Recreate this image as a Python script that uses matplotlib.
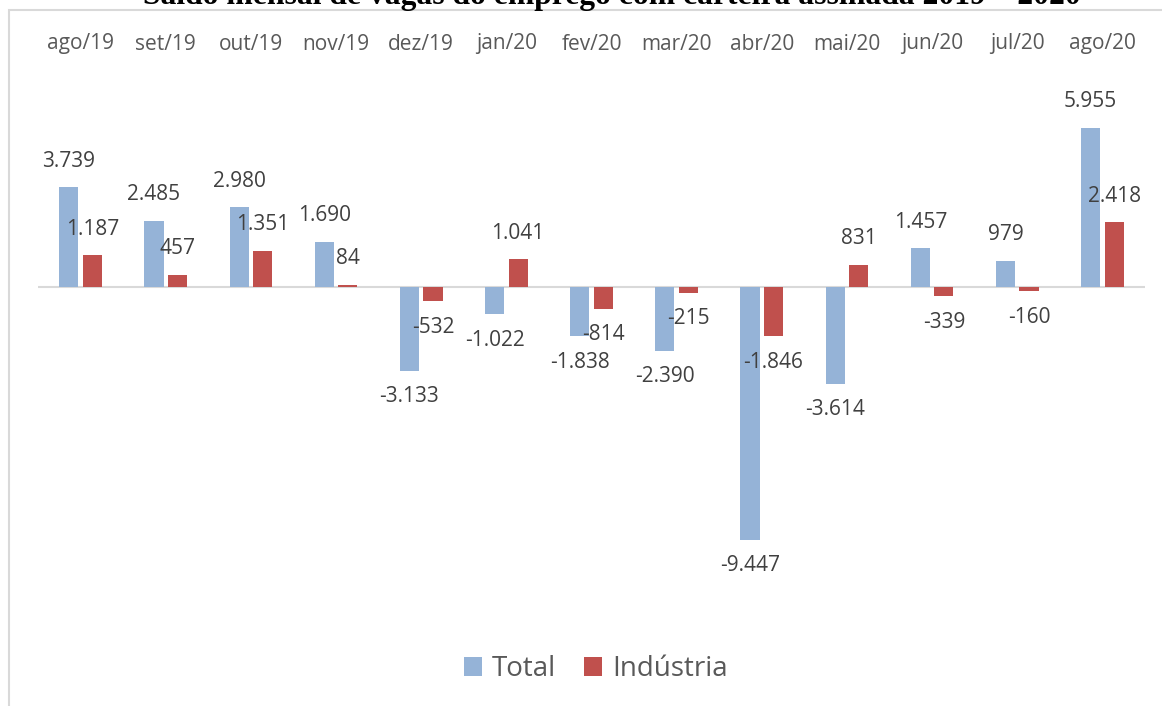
import matplotlib.pyplot as plt
import numpy as np
from matplotlib.patches import Rectangle

# data
meses = ['ago/19', 'set/19', 'out/19', 'nov/19', 'dez/19', 'jan/20', 'fev/20',
         'mar/20', 'abr/20', 'mai/20', 'jun/20', 'jul/20', 'ago/20']
total = [3739, 2485, 2980, 1690, -3133, -1022, -1838, -2390, -9447, -3614, 1457, 979, 5955]
industria = [1187, 457, 1351, 84, -532, 1041, -814, -215, -1846, 831, -339, -160, 2418]

c_total = '#95b3d7'
c_ind = '#c0504d'
txt = '#404040'


def fmt(v):
    # thousands separator as in pt-BR
    return f'{v:,}'.replace(',', '.')


W, H = 1162, 706
fig = plt.figure(figsize=(W / 100, H / 100), dpi=100)
plt.rcParams['font.family'] = ['Open Sans', 'DejaVu Sans']

# chart frame (cropped on right/bottom)
fig.patches.append(Rectangle((9 / W, -0.1), 1.2, 1.1 - 10 / H, transform=fig.transFigure,
                             fill=False, edgecolor='#d9d9d9', linewidth=1.5))

# title is cut by the top edge, as in the source
fig.text(612 / W, 1 - 4 / H, 'Saldo mensal de vagas do emprego com carteira assinada 2019 – 2020',
         family='Liberation Serif', weight='bold', fontsize=22.8, ha='center', va='baseline')

# axes: zero at y=287px, 0.02674 px per unit
top_px, bot_px, zero_px, k = 100, 600, 287, 0.02674
ax = fig.add_axes([38 / W, (H - bot_px) / H, (1145 - 38) / W, (bot_px - top_px) / H])
ax.set_ylim(-(bot_px - zero_px) / k, (zero_px - top_px) / k)
ax.set_xlim(-0.5, 12.5)
ax.axis('off')

x = np.arange(len(meses))
w, off = 0.225, 0.138
ax.bar(x - off, total, w, color=c_total, label='Total', zorder=2)
ax.bar(x + off, industria, w, color=c_ind, label='Indústria', zorder=2)
ax.axhline(0, color='#d9d9d9', linewidth=1.5, zorder=1)

for xs, vals in ((x - off, total), (x + off, industria)):
    for xi, v in zip(xs, vals):
        d = 26 if v >= 0 else -26
        ax.annotate(fmt(v), (xi, v), xytext=(0, d), textcoords='offset pixels',
                    ha='center', va='center', fontsize=15, color=txt)

# category labels along the top
lab_y = 1 + (top_px - 44) / (bot_px - top_px)
for xi, m in zip(x, meses):
    ax.text(xi, lab_y, m, transform=ax.get_xaxis_transform(), ha='center', va='center',
            fontsize=15, color='#595959')

fig.legend(loc='center', bbox_to_anchor=(596 / W, 1 - 669 / H), ncol=2, frameon=False,
           fontsize=20, handlelength=0.65, handleheight=0.65, handletextpad=0.35,
           columnspacing=1.0, labelcolor='#595959')

fig.savefig('out.png', dpi=100)
